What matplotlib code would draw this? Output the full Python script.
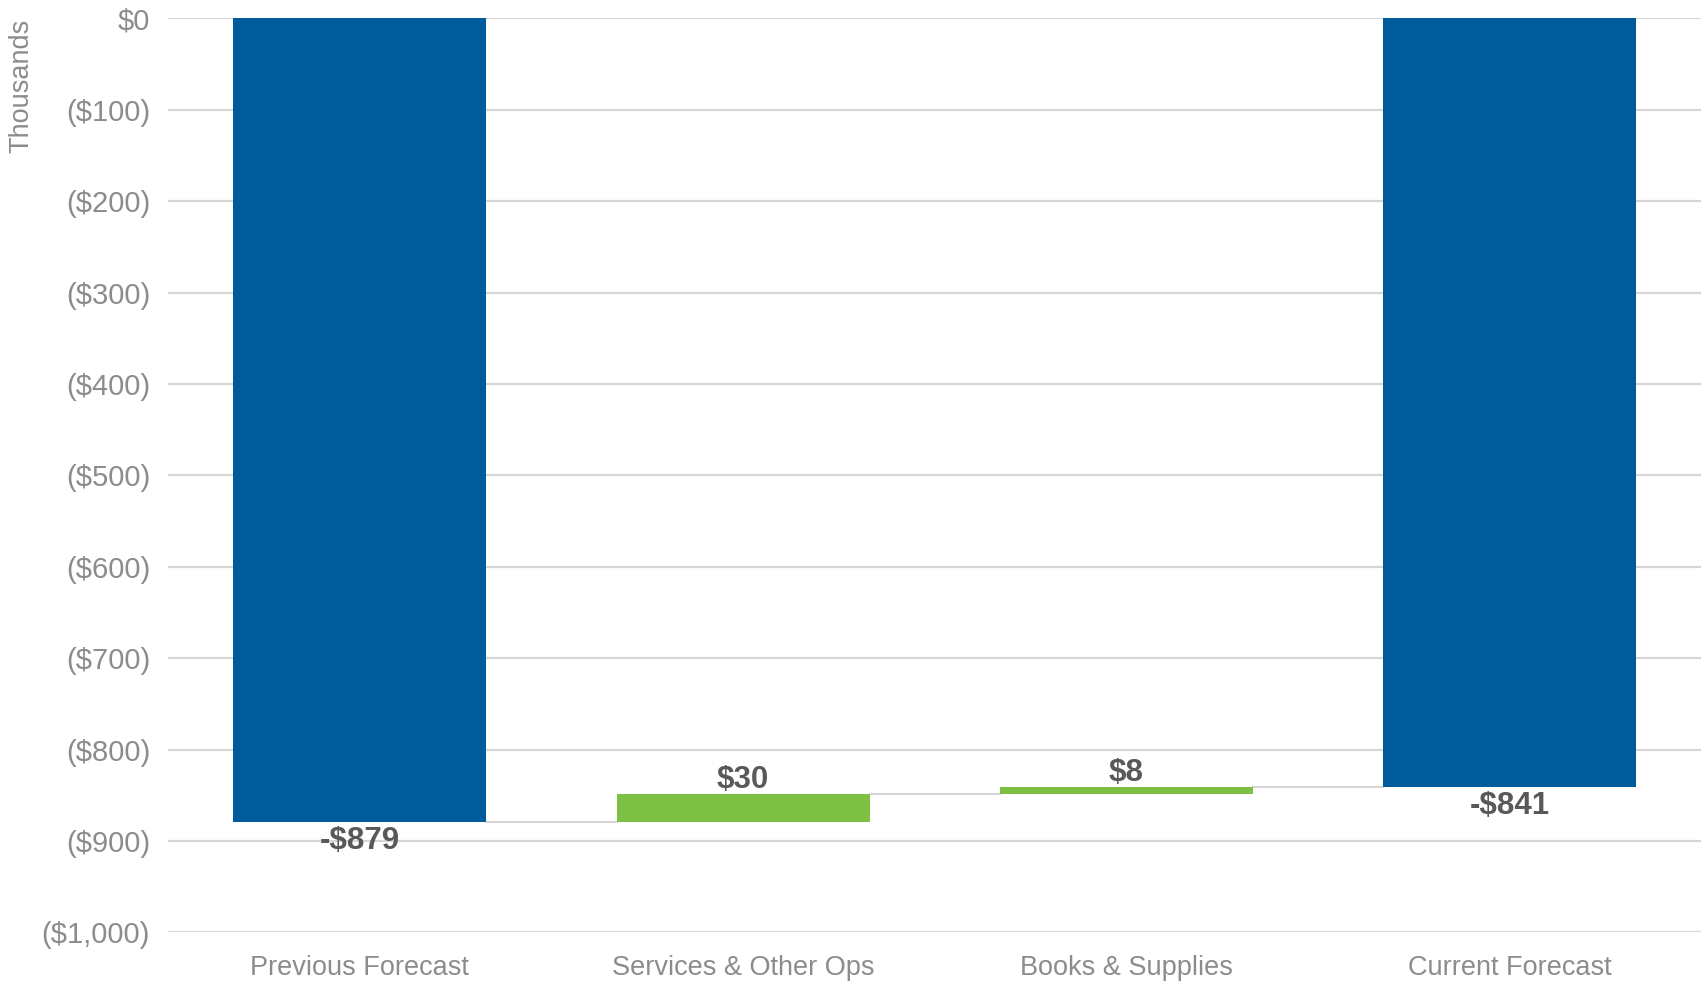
import matplotlib
matplotlib.use("Agg")
import matplotlib.pyplot as plt
from matplotlib.ticker import FixedLocator, FuncFormatter

plt.rcParams['font.family'] = ['Liberation Sans', 'DejaVu Sans']

categories = ["Previous Forecast", "Services & Other Ops", "Books & Supplies", "Current Forecast"]
values = [-879, 30, 8, -841]
kinds = ["total", "delta", "delta", "total"]
yticks = [0, -100, -200, -300, -400, -500, -600, -700, -800, -900, -1000]

BLUE = "#005B9A"
GREEN = "#7DC043"
GRID = "#D6D6D6"
TICK = "#8C8C8C"
LABEL = "#595959"

fig = plt.figure(figsize=(17.03, 9.83), dpi=100)
ax = fig.add_axes([0.0987, 0.0514, 0.9003, 0.9298])

width = 0.66
bottoms, heights, colors = [], [], []
running = 0
for v, k in zip(values, kinds):
    if k == "total":
        bottoms.append(0)
        heights.append(v)
        colors.append(BLUE)
        running = v
    else:
        bottoms.append(running)
        heights.append(v)
        colors.append(GREEN)
        running = running + v

x = list(range(len(categories)))
ax.bar(x, heights, bottom=bottoms, width=width, color=colors, zorder=3, linewidth=0)

# connectors
for i in range(len(categories) - 1):
    level = bottoms[i] + heights[i] if kinds[i] == "delta" else heights[i]
    ax.plot([i + width / 2, i + 1 - width / 2], [level, level], color=GRID, lw=1.5, zorder=2)

# value labels
for i, (v, k) in enumerate(zip(values, kinds)):
    top = max(bottoms[i], bottoms[i] + heights[i])
    low = min(bottoms[i], bottoms[i] + heights[i])
    if v < 0:
        txt = "-${:,}".format(abs(v))
        ax.annotate(txt, (i, low), xytext=(0, -3), textcoords="offset points",
                    ha="center", va="top", fontsize=22.5, fontweight="bold", color=LABEL, zorder=4)
    else:
        txt = "${:,}".format(v)
        ax.annotate(txt, (i, top), xytext=(0, -0.5), textcoords="offset points",
                    ha="center", va="bottom", fontsize=22.5, fontweight="bold", color=LABEL, zorder=4)

ax.set_xlim(-0.5, len(categories) - 0.5)
ax.set_ylim(-1000, 0)
ax.yaxis.set_major_locator(FixedLocator(yticks))


def fmt(v, pos):
    v = int(round(v))
    if v == 0:
        return "$0"
    if v < 0:
        return "(${:,})".format(abs(v))
    return "${:,}".format(v)


ax.yaxis.set_major_formatter(FuncFormatter(fmt))
ax.set_xticks(x)
ax.set_xticklabels(categories)
ax.tick_params(axis="y", length=0, pad=13, labelsize=21, labelcolor=TICK)
ax.tick_params(axis="x", length=0, pad=16.5, labelsize=19.5, labelcolor=TICK)
ax.yaxis.grid(True, color=GRID, lw=1.6, zorder=0)
ax.set_axisbelow(True)
for s in ax.spines.values():
    s.set_visible(False)

fig.text(0.0128, 0.981, "Thousands", rotation=90, ha="center", va="top", fontsize=19.5, color=TICK)

fig.savefig("out.png", dpi=100)
